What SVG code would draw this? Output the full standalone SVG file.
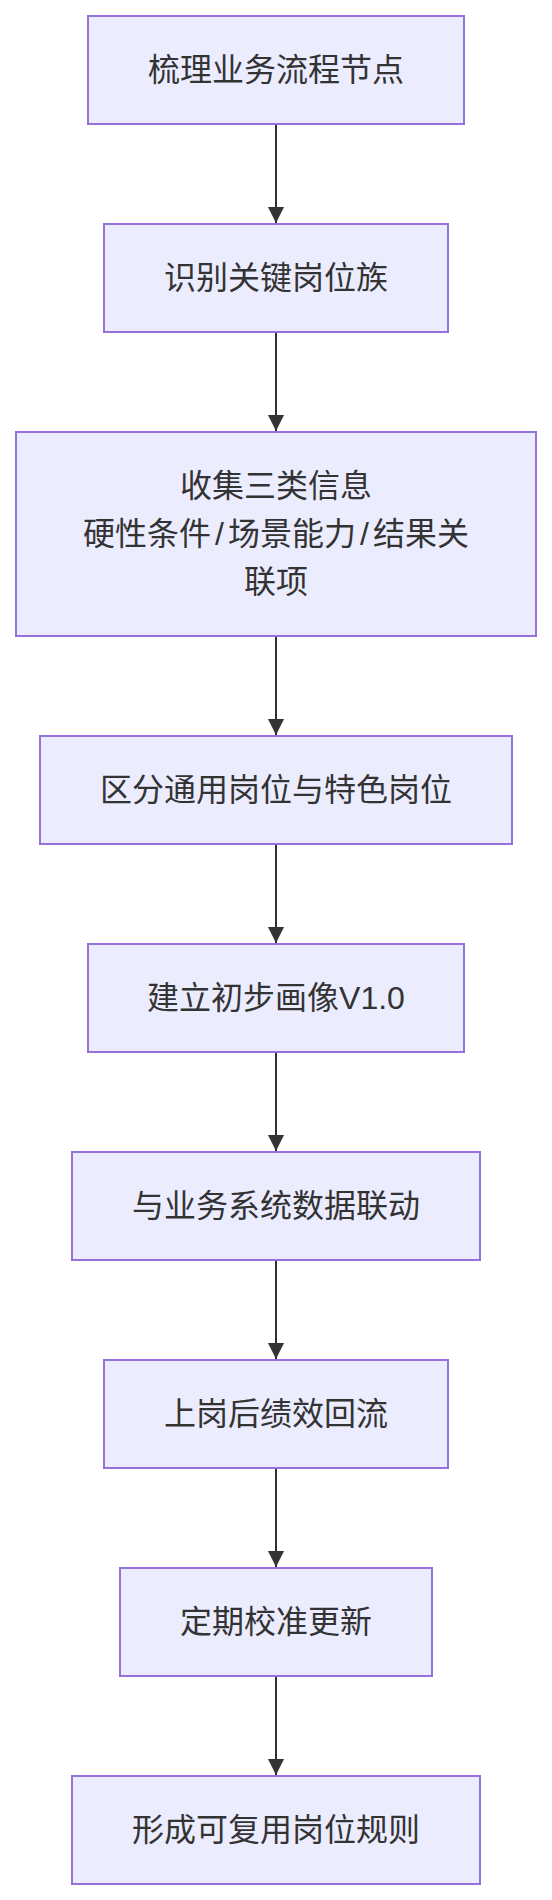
<svg xmlns="http://www.w3.org/2000/svg" width="552" height="1900" viewBox="0 0 552 1900">
<style>
.node rect{fill:#ECECFF;stroke:#9370DB;stroke-width:2}
.node text{font-family:"Liberation Sans","Noto Sans CJK SC",sans-serif;font-size:32px;fill:#333333;text-anchor:middle;dominant-baseline:central}
.edge{stroke:#333333;stroke-width:2;fill:none}
</style>
<defs>
<marker id="arrow" viewBox="0 0 10 10" refX="10" refY="5" markerUnits="userSpaceOnUse" markerWidth="16" markerHeight="16" orient="auto">
<path d="M0,0 L10,5 L0,10 z" fill="#333333"/>
</marker>
</defs>
<rect width="552" height="1900" fill="#ffffff"/>
<g id="connectors">
<line class="edge" x1="276" y1="124" x2="276" y2="223" marker-end="url(#arrow)"/>
<line class="edge" x1="276" y1="332" x2="276" y2="431" marker-end="url(#arrow)"/>
<line class="edge" x1="276" y1="636" x2="276" y2="735" marker-end="url(#arrow)"/>
<line class="edge" x1="276" y1="844" x2="276" y2="943" marker-end="url(#arrow)"/>
<line class="edge" x1="276" y1="1052" x2="276" y2="1151" marker-end="url(#arrow)"/>
<line class="edge" x1="276" y1="1260" x2="276" y2="1359" marker-end="url(#arrow)"/>
<line class="edge" x1="276" y1="1468" x2="276" y2="1567" marker-end="url(#arrow)"/>
<line class="edge" x1="276" y1="1676" x2="276" y2="1775" marker-end="url(#arrow)"/>
</g>
<g id="n1" class="node"><rect x="88" y="16" width="376" height="108"/><text x="276" y="70">梳理业务流程节点</text></g>
<g id="n2" class="node"><rect x="104" y="224" width="344" height="108"/><text x="276" y="278">识别关键岗位族</text></g>
<g id="n3" class="node"><rect x="16" y="432" width="520" height="204"/><text x="276" y="486">收集三类信息</text><text x="276" y="534">硬性条件<tspan dx="4">/</tspan><tspan dx="4">场景能力</tspan><tspan dx="4">/</tspan><tspan dx="4">结果关</tspan></text><text x="276" y="582">联项</text></g>
<g id="n4" class="node"><rect x="40" y="736" width="472" height="108"/><text x="276" y="790">区分通用岗位与特色岗位</text></g>
<g id="n5" class="node"><rect x="88" y="944" width="376" height="108"/><text x="276" y="998">建立初步画像V1.0</text></g>
<g id="n6" class="node"><rect x="72" y="1152" width="408" height="108"/><text x="276" y="1206">与业务系统数据联动</text></g>
<g id="n7" class="node"><rect x="104" y="1360" width="344" height="108"/><text x="276" y="1414">上岗后绩效回流</text></g>
<g id="n8" class="node"><rect x="120" y="1568" width="312" height="108"/><text x="276" y="1622">定期校准更新</text></g>
<g id="n9" class="node"><rect x="72" y="1776" width="408" height="108"/><text x="276" y="1830">形成可复用岗位规则</text></g>
</svg>
